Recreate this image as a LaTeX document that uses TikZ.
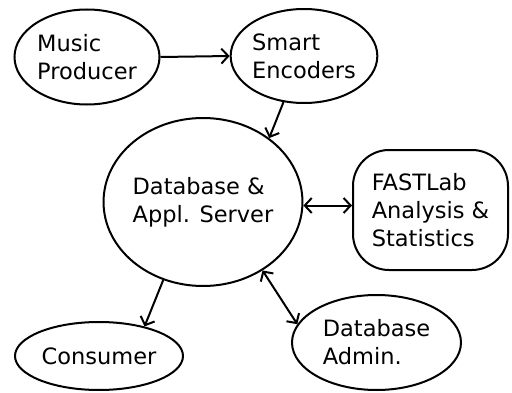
\documentclass[tikz,border=0pt]{standalone}
\usepackage{fontspec}
\setmainfont{DejaVu Sans}
\usetikzlibrary{arrows.meta,shapes.geometric}
\begin{document}
\begin{tikzpicture}[x=1pt,y=1pt,
  every node/.style={font=\fontsize{22.5}{28}\selectfont, align=left, inner sep=0pt},
  oval/.style={draw, ellipse, line width=2pt},
  panel/.style={draw, rectangle, rounded corners=36pt, line width=2pt},
  barb/.tip={Straight Barb[length=7pt,width=15pt,line width=2pt]},
  link/.style={line width=2pt, -barb},
  twoway/.style={line width=2pt, barb-barb}]
  \useasboundingbox (0,0) rectangle (512,392);
  \node[oval, minimum width=145pt, minimum height=95pt] (mp) at (87,335) {Music\\Producer};
  \node[oval, minimum width=144pt, minimum height=94pt] (se) at (304,336) {Smart\\Encoders};
  \node[oval, minimum width=186pt, minimum height=168pt] (db) at (203,190) {Database \&\\Appl. Server};
  \node[panel, minimum width=155pt, minimum height=120pt] (fl) at (430.5,182) {FASTLab\\Analysis \&\\Statistics};
  \node[oval, minimum width=169pt, minimum height=95pt] (da) at (376.5,49.5) {Database\\Admin.};
  \node[oval, minimum width=168pt, minimum height=68pt] (co) at (99,36) {Consumer};
  \draw[link] (mp.east) -- (se.west);
  \draw[link] (se.246) -- (db.44);
  \draw[twoway] (db.-2) -- (db.-2 -| fl.west);
  \draw[twoway] (db.-49) -- (da.167);
  \draw[link] (db.243) -- (co.33);
\end{tikzpicture}
\end{document}
